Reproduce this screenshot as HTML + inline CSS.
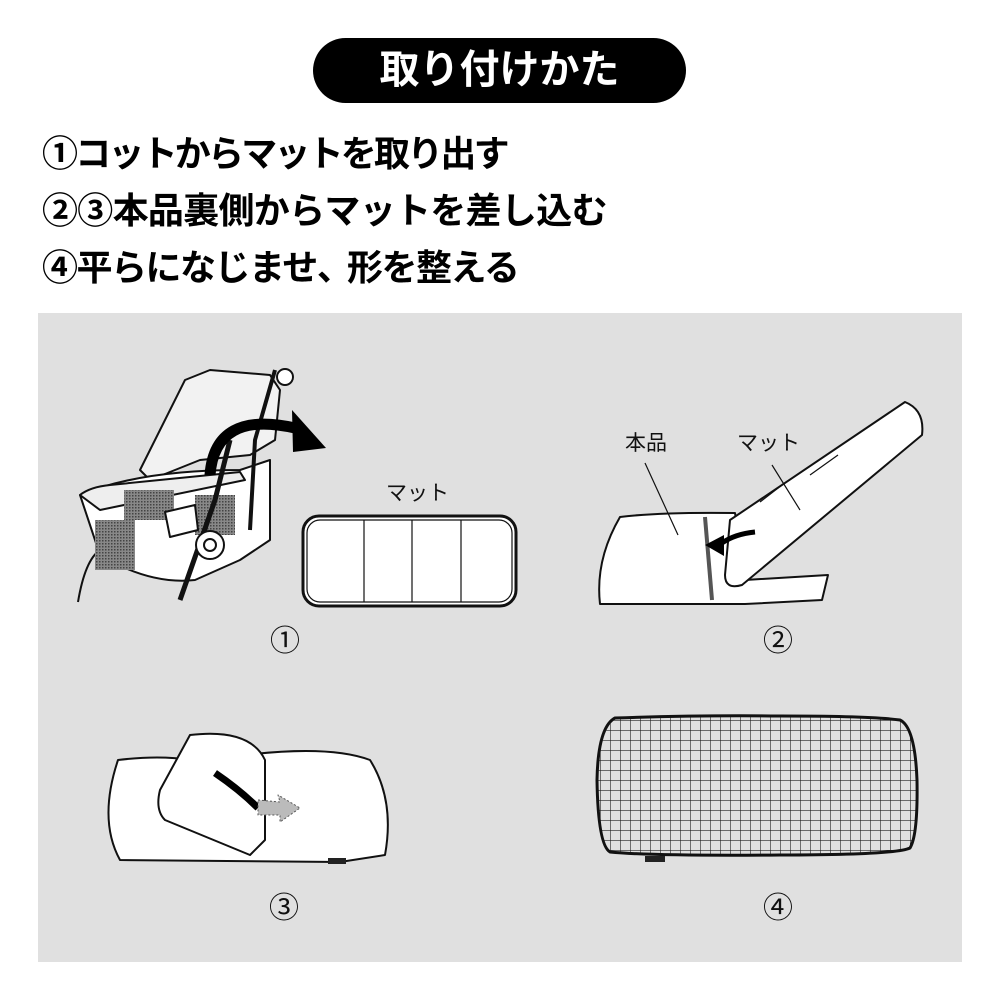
<!DOCTYPE html>
<html><head><meta charset="utf-8"><style>
body{margin:0;background:#fff;width:1000px;height:1000px;overflow:hidden;position:relative;font-family:"Liberation Sans","Noto Sans CJK JP",sans-serif}
.pill{position:absolute;left:313px;top:38px;width:373px;height:65px;background:#000;border-radius:33px;color:#fff;font-weight:bold;font-size:40px;text-align:center;line-height:65px}
.l{position:absolute;left:42px;font-size:36px;font-weight:bold;color:#000;white-space:nowrap;line-height:40px;letter-spacing:-2.8px}
.panel{position:absolute;left:38px;top:313px;width:924px;height:649px;background:#e0e0e0}
svg{position:absolute;left:0;top:0}
</style></head><body>
<div class="pill">取り付けかた</div>
<div class="l" style="top:134px">①コットからマットを取り出す</div>
<div class="l" style="top:191px;letter-spacing:-0.7px">②③本品裏側からマットを差し込む</div>
<div class="l" style="top:248px;letter-spacing:-1.5px">④平らになじませ<span style="letter-spacing:-6px">、</span>形を整える</div>
<div class="panel"></div>
<svg width="1000" height="1000" viewBox="0 0 1000 1000">
<defs>
<pattern id="grid" width="10" height="10" patternUnits="userSpaceOnUse"><path d="M0 0H10M0 0V10" stroke="#222" stroke-width="1.2" fill="none"/></pattern>
<pattern id="mesh" width="3" height="3" patternUnits="userSpaceOnUse"><rect width="3" height="3" fill="#888"/><rect width="1.5" height="1.5" fill="#444"/></pattern>
</defs>
<g stroke="#111" stroke-width="2" fill="#fff" stroke-linejoin="round">
<path d="M78 602 Q85 560 100 550" fill="none"/>
<path d="M140 470 L185 380 L210 370 L270 375 L280 390 L275 440 L250 455 L200 460 L150 480 Z" fill="#f2f2f2"/>
<path d="M80 495 Q140 470 240 470 L270 460 L270 540 L240 560 L195 580 Q150 585 100 555 Z"/>
<path d="M80 495 Q90 487 110 485 L240 472 L245 480 L100 510 Z" fill="#eee"/>
<rect x="95" y="520" width="40" height="50" fill="url(#mesh)" stroke="none"/>
<rect x="124" y="490" width="50" height="30" fill="url(#mesh)" stroke="none"/>
<rect x="195" y="495" width="40" height="40" fill="url(#mesh)" stroke="none"/>
<path d="M165 512 L195 505 L198 530 L170 537 Z"/>
<path d="M230 440 L215 500 L180 600" fill="none" stroke-width="5"/>
<path d="M275 370 L255 440 L250 530" fill="none" stroke-width="4"/>
<circle cx="210" cy="545" r="14"/><circle cx="210" cy="545" r="6"/>
<circle cx="285" cy="377" r="8"/>
<path d="M210 475 Q215 410 295 428" fill="none" stroke="#000" stroke-width="11"/>
<path d="M292 410 L326 448 L293 452 Z" fill="#000" stroke="none"/>
<rect x="303" y="516" width="213" height="90" rx="16" stroke-width="3"/>
<rect x="307" y="520" width="205" height="82" rx="13" fill="none" stroke-width="1.2"/>
<path d="M364 520V602M412 520V602M461 520V602" stroke-width="1.2"/>
<path d="M620 517 Q660 512 735 513 L745 580 L828 575 L822 600 L745 604 L600 604 Q595 560 620 517 Z"/>
<path d="M705 517 L712 600" stroke-width="4" stroke="#555"/>
<path d="M730 520 L905 402 Q925 410 922 435 L742 585 Q725 590 725 575 Z"/>
<path d="M810 475 L838 455M760 502 L782 485" fill="none" stroke-width="1.2"/>
<path d="M755 532 Q735 534 722 543" fill="none" stroke="#000" stroke-width="5"/>
<path d="M705 545 L724 535 L724 556 Z" fill="#000" stroke="none"/>
<path d="M645 463 L678 535M772 465 L800 510" stroke-width="1.2" fill="none"/>
<path d="M118 760 Q160 755 190 760 L245 755 Q330 745 370 760 Q395 800 385 855 L340 862 L120 860 Q98 820 118 760 Z"/>
<path d="M190 735 Q250 728 265 760 L265 840 L250 855 L165 820 Q155 810 160 790 Z"/>
<path d="M215 773 Q240 790 258 808" fill="none" stroke="#000" stroke-width="7"/>
<path d="M258 800 L280 802 L278 795 L300 808 L280 822 L280 815 L258 815 Z" fill="#bbb" stroke="#555" stroke-width="1" stroke-dasharray="2 2"/>
<rect x="328" y="858" width="18" height="6" fill="#222" stroke="none"/>
<path d="M615 718 Q700 715 780 716 Q870 716 900 720 Q915 727 917 780 Q918 835 910 848 Q895 855 780 855 Q650 856 610 852 Q598 845 597 780 Q598 727 615 718 Z" fill="url(#grid)" stroke-width="3"/>
<rect x="645" y="856" width="20" height="6" fill="#222" stroke="none"/>
</g>
<g font-family="Liberation Sans,Noto Sans CJK JP,sans-serif" font-size="21" fill="#111">
<text x="386" y="500">マット</text>
<text x="625" y="450">本品</text>
<text x="737" y="450">マット</text>
</g>
<g font-family="Liberation Sans,Noto Sans CJK JP,sans-serif" font-size="30" fill="#111" text-anchor="middle">
<text x="285" y="651">①</text><text x="778" y="651">②</text>
<text x="284" y="918">③</text><text x="778" y="918">④</text>
</g>
</svg>
</body></html>
